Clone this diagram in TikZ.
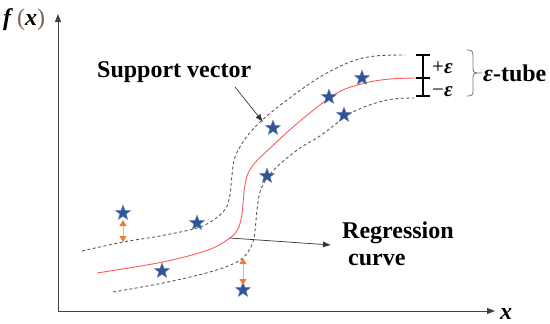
\documentclass[tikz,border=0pt]{standalone}
\usepackage{fontspec}
\setmainfont{Liberation Serif}
\usetikzlibrary{shapes.geometric,arrows.meta}
\definecolor{starblue}{HTML}{2F5597}
\definecolor{redc}{HTML}{FF5B5B}
\definecolor{orangec}{HTML}{ED7D31}
\definecolor{parenc}{HTML}{7F6055}
\begin{document}
\begin{tikzpicture}[x=1pt,y=-1pt,
  axis/.style={line width=0.9pt, draw=black!75, {Triangle[length=8pt,width=6pt]}-{Triangle[length=8pt,width=6pt]}},
  tube/.style={dash pattern=on 3pt off 2.5pt, line width=0.9pt, draw=black!65},
  regline/.style={draw=redc, line width=0.9pt},
  sv/.style={star, star points=5, star point ratio=2.4, fill=starblue, draw=starblue!70, minimum size=16pt, inner sep=0pt},
  lbl/.style={font=\fontsize{24}{28}\selectfont\bfseries, inner sep=0pt},
  pm/.style={font=\fontsize{21}{24}\selectfont, inner sep=0pt},
  pointer/.style={line width=0.7pt, draw=black!80, -{Latex[length=8pt,width=6pt]}},
  dev/.style={draw=orangec!60, line width=0.9pt, {Triangle[length=6pt,width=7pt,color=orangec]}-{Triangle[length=6pt,width=7pt,color=orangec]}},
  tick/.style={line width=1.2pt, draw=black},
  bracec/.style={line width=0.8pt, draw=black!55}
]
\useasboundingbox (0,0) rectangle (550,324);

% axes
\coordinate (ytop) at (58,14);
\coordinate (O) at (58,311);
\coordinate (xend) at (495,311);
\draw[axis] (ytop) -- (O) -- (xend);
\node[lbl, anchor=base west] (fx) at (3,26) {\textit{f}\,\textcolor{parenc}{\mdseries(}\textit{x}\textcolor{parenc}{\mdseries)}};
\node[lbl, anchor=base west] (xl) at (500,319) {\textit{x}};

% epsilon tube
\draw[tube] plot[smooth, tension=0.55] coordinates {(82,251) (123,242) (160,236) (197,228) (215,219) (226,208) (230,195) (232,175) (235,157) (245,139) (260,122) (287,100) (320,77) (350,62) (375,56) (405,55)};
\draw[tube] plot[smooth, tension=0.55] coordinates {(113,292) (163,283) (210,272) (237,262) (248,252) (254,238) (257,210) (260,192) (267,178) (280,164) (300,148) (320,136) (353,112) (387,100) (414,98)};
% regression curve
\draw[regline] plot[smooth, tension=0.55] coordinates {(97,273) (163,262) (208,250) (230,238) (238,229) (242,214) (244,192) (247,176) (254,164) (268,150) (300,121) (337,93) (365,83) (390,79) (416,78)};

% stars
\node[sv] (s1) at (123,213) {};
\node[sv] (s2) at (197,223) {};
\node[sv] (s3) at (162,271) {};
\node[sv] (s4) at (243,290) {};
\node[sv] (s5) at (273,128) {};
\node[sv] (s6) at (267,176) {};
\node[sv] (s7) at (329,97) {};
\node[sv] (s8) at (362,78) {};
\node[sv] (s9) at (344,115) {};

% deviation arrows
\coordinate (d1a) at (123,220);
\coordinate (d1b) at (123,242);
\draw[dev] (d1a) -- (d1b);
\coordinate (d2a) at (243,258);
\coordinate (d2b) at (243,285);
\draw[dev] (d2a) -- (d2b);

% labels and pointers
\node[lbl, anchor=base west] (svl) at (97,77) {Support vector};
\coordinate (svA) at (235,87);
\coordinate (svB) at (263,122);
\draw[pointer] (svA) -- (svB);

\node[lbl, anchor=base west] (rl1) at (342,238) {Regression};
\node[lbl, anchor=base west] (rl2) at (348,265) {curve};
\coordinate (rA) at (230,238);
\coordinate (rB) at (331,245);
\draw[pointer] (rA) -- (rB);

% tolerance bar
\coordinate (t1) at (423,55);
\coordinate (t2) at (423,78);
\coordinate (t3) at (423,96);
\draw[tick] (t1) -- (t3);
\draw[tick] ([xshift=-7pt]t1) -- ([xshift=7pt]t1);
\draw[tick] ([xshift=-7pt]t2) -- ([xshift=7pt]t2);
\draw[tick] ([xshift=-7pt]t3) -- ([xshift=7pt]t3);
\node[pm, anchor=base west] (pe) at (432,74) {+\textbf{\textit{ε}}};
\node[pm, anchor=base west] (me) at (432,96) {−\textbf{\textit{ε}}};

% brace
\draw[bracec] (467,50) .. controls (472,50) and (473,51) .. (473,56) -- (473,68) .. controls (473,72) and (474,73) .. (477,73) -- (482,73);
\draw[bracec] (477,73) .. controls (474,73) and (473,74) .. (473,78) -- (473,91) .. controls (473,95) and (472,96) .. (467,96);
\node[lbl, anchor=west] (tube) at (483,73) {\textit{ε}-tube};
\end{tikzpicture}
\end{document}
